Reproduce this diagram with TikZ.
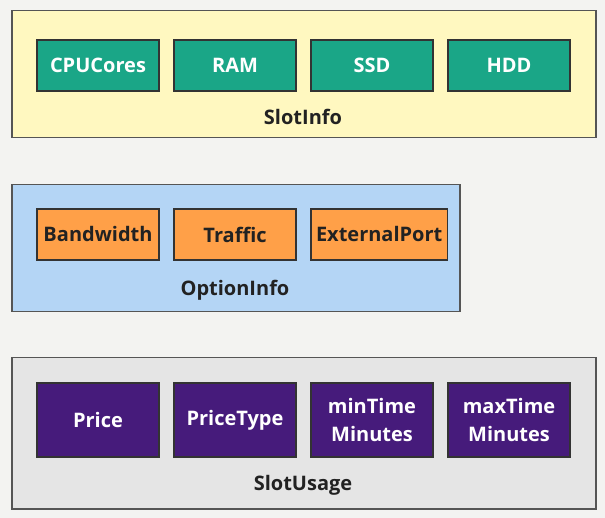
\documentclass[tikz,border=0pt]{standalone}
\usepackage{fontspec}
\setmainfont{Open Sans}
\usetikzlibrary{positioning}

\definecolor{pagegray}{HTML}{F3F3F1}
\definecolor{framegray}{HTML}{555555}
\definecolor{fieldborder}{HTML}{333333}
\definecolor{slotyellow}{HTML}{FFF8C0}
\definecolor{optionblue}{HTML}{B4D5F5}
\definecolor{usagegray}{HTML}{E5E5E5}
\definecolor{slotteal}{HTML}{1AA687}
\definecolor{optionorange}{HTML}{FFA048}
\definecolor{usagepurple}{HTML}{461B7B}
\definecolor{labeldark}{HTML}{222222}

\begin{document}
\begin{tikzpicture}[
    x=1pt, y=-1pt,
    every node/.style = {font=\bfseries\fontsize{20}{28}\selectfont, align=center},
    frame/.style = {draw=framegray, line width=1.5pt, anchor=north west, inner sep=0pt},
    field/.style = {draw=fieldborder, line width=1.5pt, anchor=north west, minimum width=122pt, inner xsep=5pt, outer sep=0pt},
    slotfield/.style = {field, fill=slotteal, text=white, minimum height=51pt},
    optionfield/.style = {field, fill=optionorange, text=labeldark, minimum height=51pt},
    usagefield/.style = {field, fill=usagepurple, text=white, minimum height=74pt},
    grouplabel/.style = {text=labeldark}
    ]
    \fill[pagegray] (0,0) rectangle (605,518);
    \useasboundingbox (0,0) rectangle (605,518);

    % SlotInfo
    \node[frame, fill=slotyellow, minimum width=584pt, minimum height=127pt] (slotinfo) at (11,10) {};
    \node[slotfield] (cpucores) at (37,40) {CPUCores};
    \node[slotfield, right=15pt of cpucores] (ram) {RAM};
    \node[slotfield, right=15pt of ram] (ssd) {SSD};
    \node[slotfield, right=15pt of ssd] (hdd) {HDD};
    \node[grouplabel] (slotinfolabel) at (303,117) {SlotInfo};

    % OptionInfo
    \node[frame, fill=optionblue, minimum width=448pt, minimum height=127pt] (optioninfo) at (11,184) {};
    \node[optionfield] (bandwidth) at (37,209) {Bandwidth};
    \node[optionfield, right=15pt of bandwidth] (traffic) {Traffic};
    \node[optionfield, right=15pt of traffic] (externalport) {ExternalPort};
    \node[grouplabel] (optioninfolabel) at (235,290) {OptionInfo};

    % SlotUsage
    \node[frame, fill=usagegray, minimum width=584pt, minimum height=151pt] (slotusage) at (11,357) {};
    \node[usagefield] (price) at (37,383) {Price};
    \node[usagefield, right=15pt of price] (pricetype) {PriceType};
    \node[usagefield, right=15pt of pricetype] (mintime) {minTime\\Minutes};
    \node[usagefield, right=15pt of mintime] (maxtime) {maxTime\\Minutes};
    \node[grouplabel] (slotusagelabel) at (303,485) {SlotUsage};
\end{tikzpicture}
\end{document}
